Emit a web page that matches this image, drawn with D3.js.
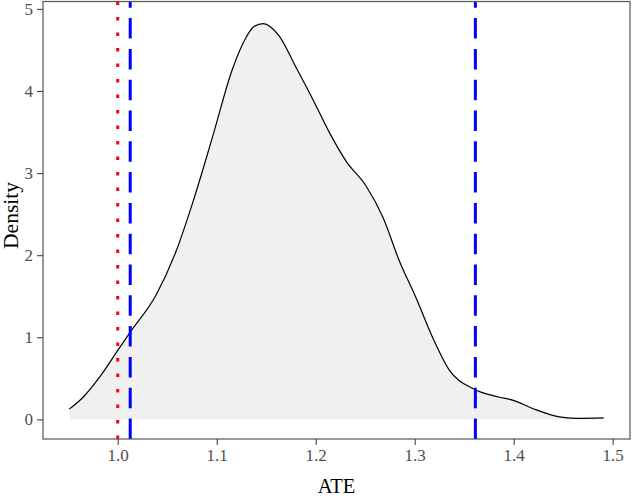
<!DOCTYPE html>
<html>
<head>
<meta charset="utf-8">
<script src="https://cdn.jsdelivr.net/npm/d3@7"></script>
<style>
  body { margin: 0; background: #fff; }
  text { font-family: "Liberation Serif", "Times New Roman", serif; }
</style>
</head>
<body>
<script>
// density curve
var ateX = [0.951, 0.965, 0.982, 1.0, 1.0125, 1.039, 1.059, 1.076, 1.096, 1.116, 1.13, 1.137, 1.147, 1.163, 1.180, 1.197, 1.214, 1.231, 1.251, 1.268, 1.2845, 1.301, 1.318, 1.335, 1.3586, 1.3856, 1.399, 1.419, 1.446, 1.463, 1.491];
var density = [0.125, 0.27, 0.52, 0.84, 1.06, 1.52, 2.05, 2.65, 3.45, 4.27, 4.66, 4.78, 4.82, 4.67, 4.29, 3.90, 3.49, 3.14, 2.84, 2.46, 1.93, 1.49, 1.0, 0.60, 0.376, 0.27, 0.234, 0.133, 0.03, 0.012, 0.018];
var refLine = [1.0];            // red dotted
var ciLines = [1.0126, 1.3613]; // blue dashed
var xTicks = [1.0, 1.1, 1.2, 1.3, 1.4, 1.5];
var yTicks = [0, 1, 2, 3, 4, 5];

var W = 633, H = 498;
var margin = {left: 43, right: 3, top: 1.5, bottom: 59};

var svg = d3.select("body").append("svg")
  .attr("width", W)
  .attr("height", H);

var x = d3.scaleLinear()
  .domain([0.9245, 1.5175])
  .range([margin.left, W - margin.right]);
var y = d3.scaleLinear()
  .domain([-0.239, 5.09])
  .range([H - margin.bottom, margin.top]);

var pts = ateX.map(function(d, i) { return [d, density[i]]; });

// filled area
svg.append("path")
  .datum(pts)
  .attr("fill", "#f0f0f0")
  .attr("d", d3.area()
    .x(function(d) { return x(d[0]); })
    .y0(y(0))
    .y1(function(d) { return y(d[1]); })
    .curve(d3.curveMonotoneX));

svg.append("path")
  .datum(pts)
  .attr("fill", "none")
  .attr("stroke", "black")
  .attr("stroke-width", 1.2)
  .attr("d", d3.line()
    .x(function(d) { return x(d[0]); })
    .y(function(d) { return y(d[1]); })
    .curve(d3.curveMonotoneX));

// vertical lines, drawn from bottom up so dashes start at the panel bottom
svg.selectAll(".ref").data(refLine).enter().append("line")
  .attr("x1", function(d) { return x(d); })
  .attr("x2", function(d) { return x(d); })
  .attr("y1", H - margin.bottom)
  .attr("y2", margin.top)
  .attr("stroke", "red")
  .attr("stroke-width", 3)
  .attr("stroke-dasharray", "3.5,12");

svg.selectAll(".ci").data(ciLines).enter().append("line")
  .attr("x1", function(d) { return x(d); })
  .attr("x2", function(d) { return x(d); })
  .attr("y1", H - margin.bottom)
  .attr("y2", margin.top)
  .attr("stroke", "blue")
  .attr("stroke-width", 3)
  .attr("stroke-dasharray", "20.5,10.3");

// panel border
svg.append("rect")
  .attr("x", margin.left)
  .attr("y", margin.top)
  .attr("width", W - margin.left - margin.right)
  .attr("height", H - margin.top - margin.bottom)
  .attr("fill", "none")
  .attr("stroke", "#555")
  .attr("stroke-width", 1.2);

// axes
var gx = svg.append("g")
  .attr("transform", "translate(0," + (H - margin.bottom) + ")")
  .call(d3.axisBottom(x).tickValues(xTicks).tickFormat(d3.format(".1f")).tickSize(6).tickPadding(4));
var gy = svg.append("g")
  .attr("transform", "translate(" + margin.left + ",0)")
  .call(d3.axisLeft(y).tickValues(yTicks).tickFormat(d3.format("d")).tickSize(6).tickPadding(4));

[gx, gy].forEach(function(g) {
  g.select(".domain").remove();
  g.selectAll(".tick line").attr("stroke", "#444").attr("stroke-width", 1.1);
  g.selectAll(".tick text")
    .attr("fill", "#4d4d4d")
    .style("font-size", "17px")
    .style("font-family", "Liberation Serif, serif");
});

svg.append("text")
  .text("ATE")
  .attr("text-anchor", "middle")
  .attr("x", (margin.left + W - margin.right) / 2)
  .attr("y", 493)
  .attr("font-size", "20.5px")
  .attr("fill", "black");

svg.append("text")
  .text("Density")
  .attr("text-anchor", "middle")
  .attr("transform", "translate(18,215.5) rotate(-90)")
  .attr("font-size", "21.5px")
  .attr("fill", "black");
</script>
</body>
</html>
